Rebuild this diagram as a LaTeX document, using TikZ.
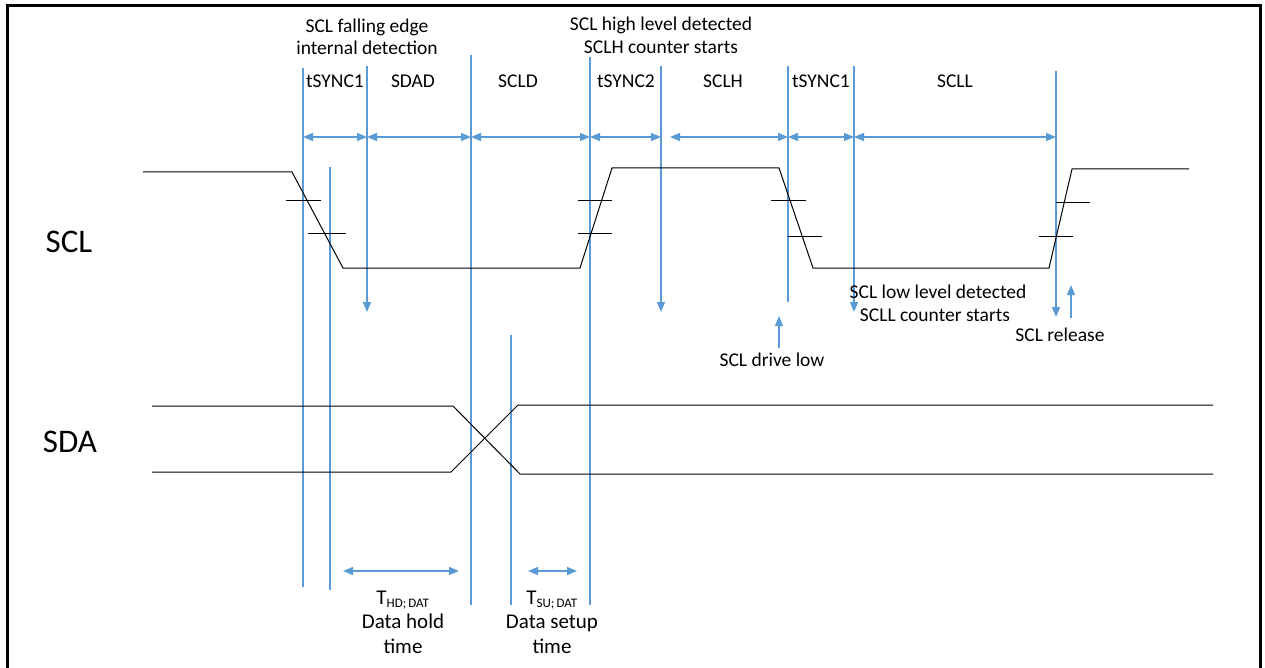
\documentclass[tikz,border=0pt]{standalone}
\usepackage{fontspec}
\setmainfont{Carlito}
\usetikzlibrary{arrows.meta}
\definecolor{dimblue}{HTML}{5B9BD5}
\begin{document}
\begin{tikzpicture}[x=1pt,y=-1pt,
  guide/.style={draw=dimblue,line width=1.3pt},
  tipa/.tip={Triangle[length=10pt,width=8pt]},
  dimarrow/.style={guide,tipa-tipa},
  downarrow/.style={guide,-tipa},
  wave/.style={draw=black,line width=1pt},
  tickmark/.style={draw=black,line width=1pt},
  lbl/.style={font=\fontsize{19.5}{22}\selectfont,inner sep=0pt,anchor=base},
  botlbl/.style={font=\fontsize{21}{24}\selectfont,inner sep=0pt,anchor=base},
  big/.style={font=\fontsize{33}{36}\selectfont,inner sep=0pt,anchor=base}]
\useasboundingbox (0,0) rectangle (1265,668);
\fill[white] (0,0) rectangle (1265,668);
\draw[line width=3pt] (7,670) -- (7,6) -- (1260,6) -- (1260,670);

% guide line coordinates
\coordinate (g1t) at (303,68);  \coordinate (g1b) at (303,587);
\coordinate (g2t) at (330,167); \coordinate (g2b) at (330,590);
\coordinate (g3t) at (367,66);  \coordinate (g3b) at (367,312);
\coordinate (g4t) at (471,55);  \coordinate (g4b) at (471,605);
\coordinate (g5t) at (590,57);  \coordinate (g5b) at (590,605);
\coordinate (g6t) at (661,66);  \coordinate (g6b) at (661,312);
\coordinate (g7t) at (788,66);  \coordinate (g7b) at (788,302);
\coordinate (g8t) at (854,66);  \coordinate (g8b) at (854,312);
\coordinate (g9t) at (1056,71); \coordinate (g9b) at (1056,317);
\coordinate (g10t) at (511,335); \coordinate (g10b) at (511,605);

\draw[guide] (g1t) -- (g1b);
\draw[guide] (g2t) -- (g2b);
\draw[downarrow] (g3t) -- (g3b);
\draw[guide] (g4t) -- (g4b);
\draw[guide] (g5t) -- (g5b);
\draw[downarrow] (g6t) -- (g6b);
\draw[guide] (g7t) -- (g7b);
\draw[downarrow] (g8t) -- (g8b);
\draw[downarrow] (g9t) -- (g9b);
\draw[guide] (g10t) -- (g10b);

% up arrows
\coordinate (dl0) at (779,348); \coordinate (dl1) at (779,316);
\draw[downarrow] (dl0) -- (dl1);
\coordinate (rl0) at (1071,318); \coordinate (rl1) at (1071,285);
\draw[downarrow] (rl0) -- (rl1);

% dimension arrows
\draw[dimarrow] (303,137) -- (367,137);
\draw[dimarrow] (367,137) -- (471,137);
\draw[dimarrow] (471,137) -- (590,137);
\draw[dimarrow] (590,137) -- (661,137);
\draw[dimarrow] (670,137) -- (788,137);
\draw[dimarrow] (788,137) -- (854,137);
\draw[dimarrow] (854,137) -- (1056,137);
\draw[dimarrow] (343,571) -- (459,571);
\draw[dimarrow] (528,571) -- (577,571);

% SCL waveform
\draw[wave] (143,172) -- (292,172) -- (343,268) -- (580,268) -- (612,168)
  -- (779,168) -- (813,268) -- (1049,268) -- (1072,169) -- (1189,169);
% thresholds
\draw[tickmark] (286,201) -- (321,201);
\draw[tickmark] (308,234) -- (346,234);
\draw[tickmark] (578,201) -- (612,201);
\draw[tickmark] (578,234) -- (612,234);
\draw[tickmark] (771,201) -- (806,201);
\draw[tickmark] (788,237) -- (822,237);
\draw[tickmark] (1056,203) -- (1090,203);
\draw[tickmark] (1039,237) -- (1073,237);

% SDA waveform
\draw[wave] (152,406) -- (453,406) -- (520,474) -- (1213,474);
\draw[wave] (152,472) -- (451,472) -- (518,405) -- (1213,405);

% labels
\node[big] (sclname) at (69,252) {SCL};
\node[big] (sdaname) at (70,452) {SDA};

\node[lbl] (fe1) at (367,33) {SCL falling edge};
\node[lbl] (fe2) at (367,55) {internal detection};
\node[lbl] (hl1) at (661,31) {SCL high level detected};
\node[lbl] (hl2) at (661,54) {SCLH counter starts};

\node[lbl] (d1) at (335,88) {tSYNC1};
\node[lbl] (d2) at (413,88) {SDAD};
\node[lbl] (d3) at (518,88) {SCLD};
\node[lbl] (d4) at (626,88) {tSYNC2};
\node[lbl] (d5) at (723,88) {SCLH};
\node[lbl] (d6) at (821,88) {tSYNC1};
\node[lbl] (d7) at (955,88) {SCLL};

\node[lbl] (ll1) at (938,298) {SCL low level detected};
\node[lbl] (ll2) at (935,321) {SCLL counter starts};
\node[lbl] (rel) at (1060,341) {SCL release};
\node[lbl] (drv) at (772,366) {SCL drive low};

\node[botlbl] (thd) at (403,604) {T\textsubscript{\fontsize{13}{15}\selectfont HD;\,DAT}};
\node[botlbl] (thd2) at (403,628) {Data hold};
\node[botlbl] (thd3) at (403,653) {time};
\node[botlbl] (tsu) at (552,604) {T\textsubscript{\fontsize{13}{15}\selectfont SU;\,DAT}};
\node[botlbl] (tsu2) at (552,628) {Data setup};
\node[botlbl] (tsu3) at (552,653) {time};
\end{tikzpicture}
\end{document}
